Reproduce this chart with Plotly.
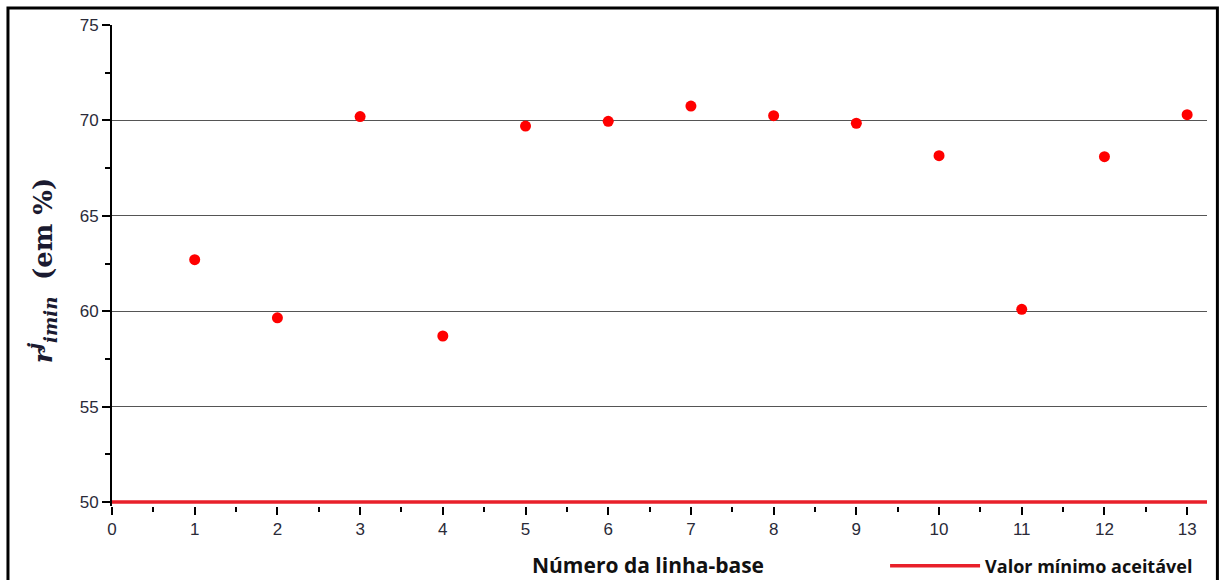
import plotly.graph_objects as go

baselines = [1, 2, 3, 4, 5, 6, 7, 8, 9, 10, 11, 12, 13]
r_min = [62.7, 59.65, 70.2, 58.7, 69.7, 69.95, 70.75, 70.25, 69.85, 68.15, 60.1, 68.1, 70.3]
min_accept = 50
x_range = [0, 13.24]
y_range = [49.79, 75]

fig = go.Figure()
fig.add_trace(go.Scatter(
    x=baselines, y=r_min, mode="markers",
    marker=dict(color="#ff0000", size=11, line=dict(width=0)),
    showlegend=False, cliponaxis=False))
fig.add_trace(go.Scatter(
    x=x_range, y=[min_accept, min_accept], mode="lines",
    line=dict(color="#e8202a", width=3.5),
    name="<b>Valor mínimo aceitável</b>", showlegend=True, cliponaxis=False))

tickfont = dict(family="Liberation Sans, Arial", size=17, color="#2a2a38")
fig.update_xaxes(range=x_range, dtick=1, tick0=0, showgrid=False, zeroline=False,
                 showline=False, ticks="outside", ticklen=8, tickwidth=2, tickcolor="black",
                 minor=dict(dtick=0.5, ticks="outside", ticklen=5, tickwidth=2, tickcolor="black"),
                 tickfont=tickfont)
fig.update_yaxes(range=y_range, tick0=50, dtick=5, showgrid=True, gridcolor="#555555", gridwidth=1,
                 zeroline=False, showline=True, linecolor="black", linewidth=2,
                 ticks="outside", ticklen=8, tickwidth=1.5, tickcolor="black",
                 minor=dict(tick0=50, dtick=2.5, ticks="outside", ticklen=5, tickwidth=1.5,
                            tickcolor="black", showgrid=False),
                 tickfont=tickfont)

fig.add_annotation(xref="paper", yref="paper", x=0.4895, y=-0.122,
                   text="<b>Número da linha-base</b>", showarrow=False,
                   font=dict(family="Open Sans, Liberation Sans", size=21, color="#111"),
                   xanchor="center", yanchor="middle")
fig.add_annotation(xref="paper", yref="paper", x=-0.064, y=0.49,
                   text="<b><i>r</i><sup><i>j</i></sup><sub><i>imin</i></sub></b>  <b>(em %)</b>",
                   textangle=-90, showarrow=False,
                   font=dict(family="DejaVu Serif, Liberation Serif", size=26, color="#1a1a30"),
                   xanchor="center", yanchor="middle")

# outer frame
fig.add_shape(type="rect", xref="paper", yref="paper", x0=-0.095, x1=1.0095, y0=-0.25, y1=1.0356,
              line=dict(color="black", width=3), layer="above")

fig.update_layout(
    width=1221, height=580,
    margin=dict(l=112, r=14, t=25, b=74, autoexpand=False),
    plot_bgcolor="white", paper_bgcolor="white",
    legend=dict(x=0.706, y=-0.125, xanchor="left", yanchor="middle", itemwidth=90,
                font=dict(family="Open Sans, Liberation Sans", size=18, color="#111"),
                bgcolor="rgba(0,0,0,0)"),
)
fig.write_html("out.html")
